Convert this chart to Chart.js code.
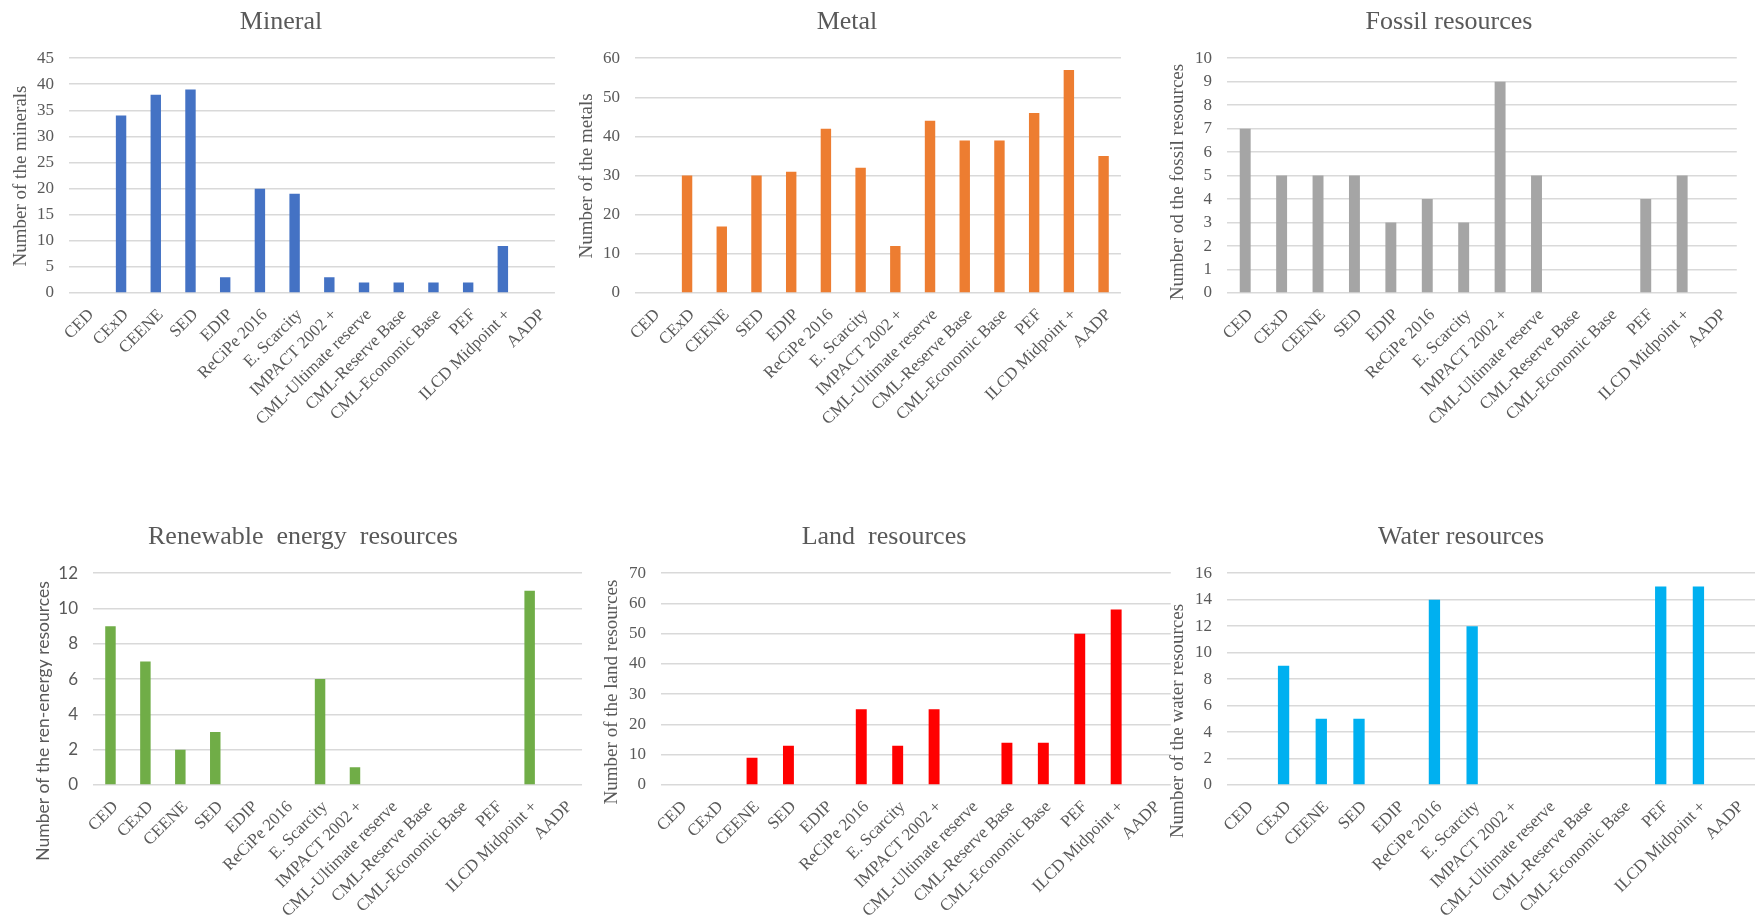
<!DOCTYPE html>
<html lang="en">
<head>
    <meta charset="UTF-8">
    <title>Resources per method</title>
    <script src="https://cdn.jsdelivr.net/npm/chart.js"></script>
    <style>
        body {
            margin: 0;
            background: #fff;
            width: 1760px;
            height: 919px;
            position: relative;
            overflow: hidden;
        }
        canvas {
            position: absolute;
        }
    </style>
</head>
<body>
    <canvas id="mineralChart"></canvas>
    <canvas id="metalChart"></canvas>
    <canvas id="fossilChart"></canvas>
    <canvas id="renewableChart"></canvas>
    <canvas id="landChart"></canvas>
    <canvas id="waterChart"></canvas>

    <script>
        // categories (same for every panel)
        const methods = ['CED', 'CExD', 'CEENE', 'SED', 'EDIP', 'ReCiPe 2016', 'E. Scarcity',
            'IMPACT 2002 +', 'CML-Ultimate reserve', 'CML-Reserve Base', 'CML-Economic Base',
            'PEF', 'ILCD Midpoint +', 'AADP'];

        // series values
        const mineralCounts   = [0, 34, 38, 39, 3, 20, 19, 3, 2, 2, 2, 2, 9, 0];
        const metalCounts     = [0, 30, 17, 30, 31, 42, 32, 12, 44, 39, 39, 46, 57, 35];
        const fossilCounts    = [7, 5, 5, 5, 3, 4, 3, 9, 5, 0, 0, 4, 5, 0];
        const renewableCounts = [9, 7, 2, 3, 0, 0, 6, 1, 0, 0, 0, 0, 11, 0];
        const landCounts      = [0, 0, 9, 13, 0, 25, 13, 25, 0, 14, 14, 50, 58, 0];
        const waterCounts     = [0, 9, 5, 5, 0, 14, 12, 0, 0, 0, 0, 15, 15, 0];

        // y axis ranges: [max, step]
        const mineralAxis   = [45, 5];
        const metalAxis     = [60, 10];
        const fossilAxis    = [10, 1];
        const renewableAxis = [12, 2];
        const landAxis      = [70, 10];
        const waterAxis     = [16, 2];

        const SERIF = '"Liberation Serif", "Times New Roman", serif';
        const SANS = 'Lato, "Open Sans", sans-serif';
        const GREY = '#595959';

        // rotated axis title drawn by hand so it can sit off-centre like in Excel
        const sideTitle = {
            id: 'sideTitle',
            afterDraw(chart, args, opts) {
                const ctx = chart.ctx;
                ctx.save();
                ctx.translate(opts.x, opts.y);
                ctx.rotate(-Math.PI / 2);
                ctx.font = opts.font;
                ctx.fillStyle = GREY;
                ctx.textAlign = 'center';
                ctx.textBaseline = 'middle';
                ctx.fillText(opts.text, 0, 0);
                ctx.restore();
            }
        };

        function makeChart(id, box, title, yTitle, values, axis, color, tickFamily, yTitleFont) {
            const cv = document.getElementById(id);
            cv.width = box.w;
            cv.height = box.h;
            cv.style.left = box.x + 'px';
            cv.style.top = box.y + 'px';

            return new Chart(cv, {
                type: 'bar',
                data: {
                    labels: methods,
                    datasets: [{
                        data: values,
                        backgroundColor: color,
                        borderWidth: 0,
                        categoryPercentage: 0.3,
                        barPercentage: 1
                    }]
                },
                plugins: [sideTitle],
                options: {
                    responsive: false,
                    animation: false,
                    layout: { padding: 0 },
                    plugins: {
                        legend: { display: false },
                        tooltip: { enabled: false },
                        title: {
                            display: true,
                            text: title,
                            color: GREY,
                            font: { family: SERIF, size: 26, weight: 'normal', lineHeight: 1.2 },
                            padding: { top: box.titleTop, bottom: box.titleBottom }
                        },
                        sideTitle: {
                            text: yTitle,
                            x: box.yTitleX,
                            y: box.yTitleY,
                            font: yTitleFont
                        }
                    },
                    scales: {
                        x: {
                            grid: { display: false },
                            border: { display: false },
                            ticks: {
                                autoSkip: false,
                                maxRotation: 45,
                                minRotation: 45,
                                padding: 4,
                                labelOffset: 5,
                                color: GREY,
                                font: { family: SERIF, size: 17 }
                            },
                            afterFit(scale) { scale.height = box.xH; }
                        },
                        y: {
                            min: 0,
                            max: axis[0],
                            border: { display: false },
                            grid: { color: '#d9d9d9', lineWidth: 1.6, drawTicks: false },
                            ticks: {
                                stepSize: axis[1],
                                padding: 15,
                                color: GREY,
                                font: { family: tickFamily, size: 17 }
                            },
                            afterFit(scale) { scale.width = box.yW; }
                        }
                    }
                }
            });
        }

        const topRow = { y: 0, h: 460, titleTop: 7, titleBottom: 20, xH: 167, yTitleY: 176 };
        const botRow = { y: 480, h: 439, titleTop: 42, titleBottom: 20, xH: 134 };

        makeChart('mineralChart', { ...topRow, x: 6, w: 550, yW: 63, yTitleX: 15 },
            'Mineral', 'Number of the minerals', mineralCounts, mineralAxis, '#4472c4', SERIF, '19px ' + SERIF);
        makeChart('metalChart', { ...topRow, x: 572, w: 550, yW: 63, yTitleX: 15 },
            'Metal', 'Number of the metals', metalCounts, metalAxis, '#ed7d31', SERIF, '19px ' + SERIF);
        makeChart('fossilChart', { ...topRow, x: 1161, w: 576, yW: 66, yTitleX: 17, yTitleY: 182 },
            'Fossil resources', 'Number od the fossil resources', fossilCounts, fossilAxis, '#a5a5a5', SERIF, '19px ' + SERIF);

        makeChart('renewableChart', { ...botRow, x: 23, w: 560, yW: 70, yTitleX: 20, yTitleY: 241 },
            'Renewable  energy  resources', 'Number of the ren-energy resources', renewableCounts, renewableAxis, '#70ad47', SANS, '17.5px ' + SANS);
        makeChart('landChart', { ...botRow, x: 597, w: 574, yW: 64, yTitleX: 15, yTitleY: 212 },
            'Land  resources', 'Number of the land resources', landCounts, landAxis, '#ff0000', SERIF, '19px ' + SERIF);
        makeChart('waterChart', { ...botRow, x: 1167, w: 588, yW: 60, yTitleX: 11, yTitleY: 241 },
            'Water resources', 'Number of the water resources', waterCounts, waterAxis, '#00b0f0', SERIF, '19px ' + SERIF);
    </script>
</body>
</html>
